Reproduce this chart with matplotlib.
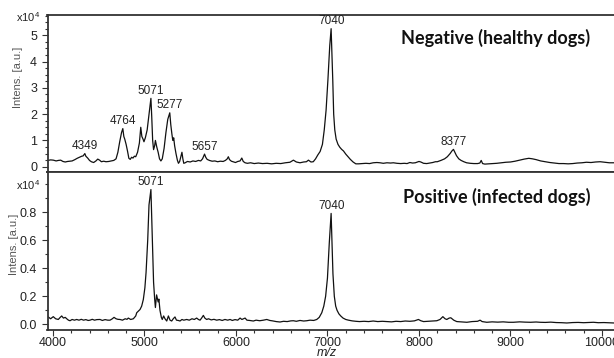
import numpy as np
import matplotlib.pyplot as plt
from matplotlib.ticker import MultipleLocator, FixedLocator

plt.rcParams['font.family'] = ['Liberation Sans', 'DejaVu Sans']
plt.rcParams['mathtext.default'] = 'regular'

# healthy dogs spectrum (m/z, intensity x10^4)
neg_mz = [3945, 3975, 4005, 4035, 4060, 4085, 4110, 4135, 4160, 4185, 4210, 4240, 4265, 4290,
          4315, 4330, 4349, 4360, 4380, 4400, 4420, 4445, 4470, 4490, 4510, 4530, 4555, 4580,
          4610, 4640, 4665, 4690, 4710, 4730, 4750, 4764, 4775, 4785, 4800, 4815, 4830, 4845,
          4860, 4875, 4890, 4905, 4925, 4945, 4960, 4972, 4985, 4995, 5010, 5030, 5050, 5071,
          5080, 5090, 5100, 5112, 5120, 5135, 5150, 5165, 5180, 5195, 5215, 5235, 5255, 5277,
          5288, 5300, 5310, 5320, 5330, 5345, 5360, 5372, 5385, 5400, 5410, 5420, 5430, 5445,
          5470, 5500, 5530, 5560, 5590, 5615, 5635, 5657, 5670, 5685, 5710, 5740, 5770, 5800,
          5830, 5860, 5885, 5905, 5917, 5930, 5950, 5975, 5995, 6020, 6045, 6064, 6080, 6100,
          6125, 6160, 6200, 6245, 6290, 6340, 6390, 6440, 6490, 6540, 6590, 6628, 6660, 6700,
          6740, 6770, 6792, 6820, 6845, 6870, 6895, 6920, 6945, 6965, 6985, 7005, 7025, 7040,
          7050, 7058, 7068, 7080, 7095, 7115, 7135, 7155, 7175, 7200, 7225, 7250, 7280, 7310,
          7340, 7380, 7420, 7460, 7500, 7540, 7575, 7610, 7650, 7690, 7720, 7760, 7800, 7840,
          7870, 7900, 7930, 7960, 8000, 8020, 8050, 8085, 8120, 8150, 8180, 8200, 8240, 8280,
          8310, 8340, 8360, 8377, 8392, 8410, 8435, 8460, 8490, 8520, 8560, 8600, 8640, 8665,
          8680, 8695, 8720, 8760, 8800, 8850, 8900, 8950, 9000, 9050, 9100, 9150, 9200, 9240,
          9280, 9330, 9380, 9430, 9480, 9530, 9580, 9630, 9680, 9730, 9780, 9830, 9880, 9930,
          9980, 10030, 10080, 10130]
neg_int = [0.24, 0.26, 0.25, 0.22, 0.24, 0.25, 0.20, 0.18, 0.20, 0.21, 0.22, 0.27, 0.32, 0.36,
           0.40, 0.41, 0.50, 0.40, 0.33, 0.24, 0.19, 0.16, 0.22, 0.29, 0.25, 0.19, 0.21, 0.19,
           0.20, 0.22, 0.24, 0.30, 0.55, 0.95, 1.30, 1.45, 1.15, 1.05, 0.85, 0.60, 0.32, 0.28,
           0.36, 0.33, 0.40, 0.38, 0.55, 0.90, 1.50, 1.15, 1.05, 0.95, 1.10, 1.40, 2.00, 2.60,
           1.90, 1.00, 0.65, 0.80, 1.00, 0.75, 0.55, 0.30, 0.22, 0.30, 0.70, 1.30, 1.80, 2.05,
           1.60, 1.25, 1.00, 1.10, 0.80, 0.50, 0.25, 0.13, 0.20, 0.40, 0.55, 0.30, 0.13, 0.15,
           0.20, 0.18, 0.22, 0.20, 0.24, 0.22, 0.30, 0.48, 0.36, 0.28, 0.24, 0.21, 0.22, 0.19,
           0.21, 0.20, 0.24, 0.30, 0.38, 0.27, 0.21, 0.18, 0.16, 0.20, 0.22, 0.33, 0.20, 0.15,
           0.13, 0.15, 0.12, 0.14, 0.12, 0.13, 0.11, 0.13, 0.12, 0.15, 0.17, 0.25, 0.18, 0.15,
           0.18, 0.19, 0.25, 0.18, 0.19, 0.30, 0.45, 0.58, 0.85, 1.40, 2.15, 3.30, 4.60, 5.25,
           4.20, 3.30, 2.00, 1.40, 1.05, 0.85, 0.74, 0.66, 0.60, 0.48, 0.38, 0.28, 0.18, 0.11,
           0.11, 0.12, 0.13, 0.12, 0.15, 0.16, 0.15, 0.13, 0.15, 0.14, 0.15, 0.13, 0.12, 0.13,
           0.12, 0.16, 0.14, 0.15, 0.20, 0.18, 0.13, 0.12, 0.14, 0.16, 0.19, 0.19, 0.24, 0.30,
           0.38, 0.50, 0.60, 0.66, 0.55, 0.42, 0.30, 0.24, 0.19, 0.15, 0.13, 0.12, 0.12, 0.14,
           0.24, 0.12, 0.10, 0.11, 0.12, 0.13, 0.15, 0.17, 0.18, 0.21, 0.25, 0.29, 0.32, 0.30,
           0.27, 0.22, 0.19, 0.16, 0.14, 0.12, 0.12, 0.11, 0.12, 0.14, 0.15, 0.17, 0.16, 0.18,
           0.19, 0.17, 0.15, 0.15]

# infected dogs spectrum
pos_mz = [3945, 3975, 4004, 4030, 4059, 4080, 4096, 4115, 4135, 4151, 4170, 4187, 4210, 4235,
          4260, 4285, 4310, 4335, 4360, 4385, 4405, 4430, 4455, 4480, 4515, 4540, 4570, 4600,
          4624, 4645, 4668, 4690, 4710, 4733, 4760, 4790, 4810, 4824, 4850, 4879, 4905, 4916,
          4935, 4952, 4970, 4988, 5005, 5018, 5036, 5050, 5071, 5080, 5090, 5100, 5112, 5120,
          5133, 5140, 5150, 5158, 5170, 5185, 5195, 5210, 5225, 5244, 5262, 5280, 5298, 5315,
          5334, 5350, 5370, 5389, 5410, 5430, 5462, 5490, 5520, 5545, 5571, 5590, 5608, 5625,
          5644, 5660, 5680, 5700, 5730, 5760, 5790, 5820, 5850, 5880, 5910, 5936, 5960, 5990,
          6020, 6045, 6065, 6082, 6100, 6120, 6150, 6190, 6220, 6260, 6300, 6337, 6370, 6400,
          6440, 6482, 6520, 6560, 6600, 6628, 6660, 6700, 6740, 6774, 6810, 6850, 6883, 6910,
          6938, 6960, 6980, 7000, 7020, 7040, 7050, 7060, 7075, 7090, 7105, 7125, 7145, 7170,
          7200, 7230, 7270, 7310, 7350, 7400, 7450, 7500, 7550, 7600, 7650, 7700, 7750, 7800,
          7850, 7900, 7950, 7994, 8020, 8050, 8100, 8150, 8195, 8230, 8261, 8285, 8304, 8330,
          8348, 8380, 8413, 8460, 8523, 8580, 8640, 8668, 8690, 8741, 8800, 8860, 8920, 8980,
          9032, 9100, 9160, 9220, 9280, 9323, 9380, 9440, 9500, 9560, 9615, 9680, 9740, 9800,
          9860, 9906, 9960, 10020, 10080, 10130]
pos_int = [0.055, 0.04, 0.055, 0.04, 0.035, 0.05, 0.06, 0.045, 0.05, 0.04, 0.03, 0.026, 0.035,
           0.03, 0.035, 0.03, 0.036, 0.03, 0.034, 0.028, 0.03, 0.036, 0.03, 0.034, 0.035, 0.028,
           0.034, 0.03, 0.03, 0.038, 0.05, 0.04, 0.036, 0.035, 0.03, 0.04, 0.036, 0.045, 0.035,
           0.04, 0.06, 0.083, 0.095, 0.106, 0.13, 0.177, 0.26, 0.37, 0.60, 0.85, 0.96, 0.75,
           0.50, 0.30, 0.18, 0.12, 0.21, 0.19, 0.16, 0.18, 0.10, 0.05, 0.035, 0.06, 0.04, 0.024,
           0.06, 0.03, 0.024, 0.04, 0.053, 0.03, 0.028, 0.024, 0.035, 0.03, 0.035, 0.03, 0.04,
           0.035, 0.045, 0.035, 0.03, 0.045, 0.064, 0.045, 0.035, 0.04, 0.032, 0.036, 0.03,
           0.034, 0.028, 0.035, 0.03, 0.035, 0.028, 0.034, 0.03, 0.045, 0.035, 0.04, 0.045,
           0.03, 0.028, 0.024, 0.03, 0.026, 0.03, 0.035, 0.028, 0.025, 0.02, 0.017, 0.022,
           0.02, 0.025, 0.026, 0.022, 0.028, 0.024, 0.026, 0.03, 0.028, 0.035, 0.05, 0.083,
           0.13, 0.20, 0.33, 0.58, 0.79, 0.58, 0.36, 0.20, 0.13, 0.10, 0.075, 0.06, 0.045,
           0.035, 0.03, 0.025, 0.022, 0.02, 0.022, 0.02, 0.024, 0.02, 0.022, 0.02, 0.018,
           0.022, 0.02, 0.024, 0.022, 0.025, 0.035, 0.026, 0.02, 0.022, 0.024, 0.026, 0.035,
           0.055, 0.04, 0.035, 0.045, 0.047, 0.03, 0.02, 0.018, 0.015, 0.02, 0.022, 0.03, 0.02,
           0.015, 0.018, 0.016, 0.018, 0.015, 0.015, 0.018, 0.016, 0.015, 0.017, 0.015, 0.014,
           0.016, 0.013, 0.012, 0.01, 0.013, 0.014, 0.012, 0.014, 0.015, 0.012, 0.013, 0.011,
           0.01]

neg_peaks = [4349, 4764, 5071, 5277, 5657, 7040, 8377]
pos_peaks = [5071, 7040]

fig = plt.figure(figsize=(6.14, 3.58), dpi=100)
left = 47.5 / 614
ax1 = fig.add_axes([left, 0.5196, 1 - left, 0.4385])
ax2 = fig.add_axes([left, 0.0782, 1 - left, 0.4414])

spine_c = '#333333'
for ax in (ax1, ax2):
    for s in ax.spines.values():
        s.set_color(spine_c)
        s.set_linewidth(1.3)
    ax.spines['right'].set_visible(False)
    ax.set_xlim(3941, 10131)
    ax.xaxis.set_major_locator(MultipleLocator(1000))
    ax.xaxis.set_minor_locator(MultipleLocator(200))
    ax.tick_params(which='both', direction='out', colors=spine_c, labelsize=9,
                   labelcolor='#222222', width=0.8)
    ax.tick_params(which='major', length=4)
    ax.tick_params(which='minor', length=2)

ax1.plot(neg_mz, neg_int, color='#111111', lw=0.9)
ax2.plot(pos_mz, pos_int, color='#111111', lw=0.9)

ax1.set_ylim(-0.2, 5.77)
ax1.yaxis.set_major_locator(MultipleLocator(1))
ax1.yaxis.set_minor_locator(MultipleLocator(0.25))
ax1.tick_params(axis='x', which='both', bottom=False, labelbottom=False)

ax2.set_ylim(-0.04, 1.085)
ax2.yaxis.set_major_locator(FixedLocator([0.0, 0.2, 0.4, 0.6, 0.8]))
ax2.yaxis.set_minor_locator(FixedLocator([0.1, 0.3, 0.5, 0.7, 0.9, 1.0]))
ax2.set_yticklabels(['0.0', '0.2', '0.4', '0.6', '0.8'])
ax2.tick_params(axis='x', pad=1)

for ax, mz, inten, peaks in ((ax1, neg_mz, neg_int, neg_peaks), (ax2, pos_mz, pos_int, pos_peaks)):
    for p in peaks:
        h = inten[mz.index(p)]
        ax.annotate(str(p), (p, h), xytext=(0, 1), textcoords='offset points',
                    ha='center', va='bottom', fontsize=8.5, color='#222222')

ax1.set_ylabel('Intens. [a.u.]', fontsize=8, color='#555555')
ax1.yaxis.set_label_coords(-0.043, 0.605)
ax2.set_ylabel('Intens. [a.u.]', fontsize=8, color='#555555')
ax2.yaxis.set_label_coords(-0.05, 0.54)

fig.text(28 / 614, 1 - 17 / 358, r'$x10^4$', ha='center', va='center', fontsize=8, color='#222222')
fig.text(28 / 614, 1 - 185 / 358, r'$x10^4$', ha='center', va='center', fontsize=8, color='#222222')

fig.text(327 / 614, 1 - 353.5 / 358, 'm/z', ha='center', va='center', fontsize=9,
         style='italic', color='#222222')

fig.text(496 / 614, 1 - 38 / 358, 'Negative (healthy dogs)', ha='center', va='center',
         fontsize=13, fontweight='bold', family=['Lato', 'DejaVu Sans'], color='#111111')
fig.text(497 / 614, 1 - 197 / 358, 'Positive (infected dogs)', ha='center', va='center',
         fontsize=13, fontweight='bold', family=['Lato', 'DejaVu Sans'], color='#111111')

fig.savefig('out.png', dpi=100)
